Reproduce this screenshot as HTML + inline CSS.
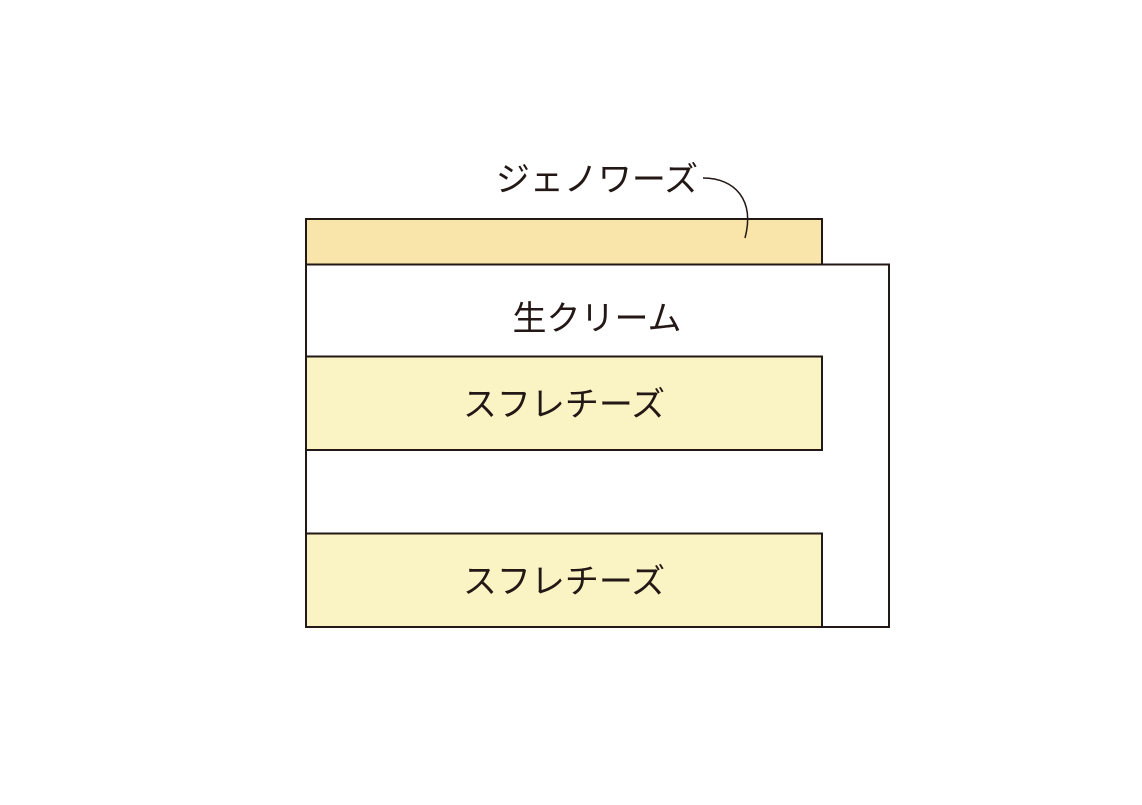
<!DOCTYPE html>
<html><head><meta charset="utf-8"><style>
html,body{margin:0;padding:0;background:#fff;}
svg text{font-family:"Liberation Sans","Noto Sans CJK JP",sans-serif;font-size:34px;fill:#231815;}
</style></head><body>
<svg width="1142" height="800" viewBox="0 0 1142 800" xmlns="http://www.w3.org/2000/svg">
<rect x="0" y="0" width="1142" height="800" fill="#fff"/>
<rect x="306" y="264.5" width="583" height="362.5" fill="#fff" stroke="#231815" stroke-width="2"/>
<rect x="306" y="219" width="516" height="45.5" fill="#f9e4aa" stroke="#231815" stroke-width="2"/>
<rect x="306" y="356.5" width="516" height="93.5" fill="#faf4c4" stroke="#231815" stroke-width="2"/>
<rect x="306" y="533.5" width="516" height="93.5" fill="#faf4c4" stroke="#231815" stroke-width="2"/>
<path d="M703 178 C735 178 755 200 745 238" fill="none" stroke="#231815" stroke-width="1.5"/>
<text x="597" y="191" text-anchor="middle">ジェノワーズ</text>
<text x="597" y="330" text-anchor="middle">生クリーム</text>
<text x="564" y="416" text-anchor="middle">スフレチーズ</text>
<text x="564" y="593" text-anchor="middle">スフレチーズ</text>
</svg>
</body></html>
